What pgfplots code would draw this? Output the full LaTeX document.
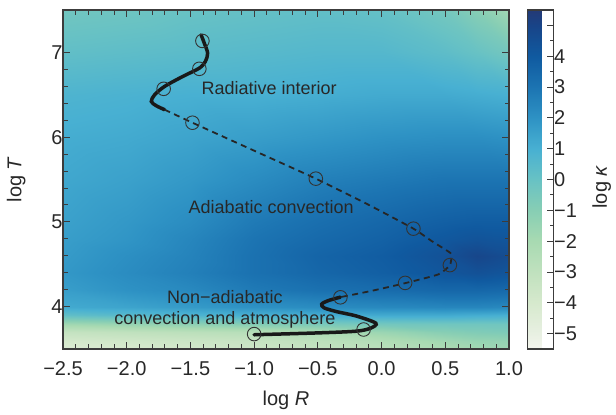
\documentclass[border=0pt]{standalone}
\usepackage{fontspec}
\setmainfont{Liberation Sans}
\usepackage{pgfplots}
\usepackage{pgfplotstable}
\pgfplotsset{compat=1.18}
\pgfplotsset{colormap={kappa}{
 rgb255(0pt)=(244,245,238);
 rgb255(1pt)=(232,240,226);
 rgb255(3pt)=(214,233,205);
 rgb255(5pt)=(192,225,190);
 rgb255(7pt)=(168,218,178);
 rgb255(9pt)=(135,206,180);
 rgb255(11pt)=(104,194,196);
 rgb255(13pt)=(72,176,210);
 rgb255(15pt)=(46,146,196);
 rgb255(17pt)=(28,116,178);
 rgb255(19pt)=(16,90,160);
 rgb255(21pt)=(24,68,136);
 rgb255(22pt)=(36,58,118)}}
\definecolor{frame}{RGB}{60,60,60}
\definecolor{txt}{RGB}{40,40,40}
\pgfplotstableread{
x y c
-2.5 3.5 -4.3
-2.0 3.5 -4.1
-1.5 3.5 -3.9
-1.0 3.5 -3.6
-0.5 3.5 -3.2
0.0 3.5 -2.8
0.5 3.5 -2.2
0.75 3.5 -1.9
1.0 3.5 -1.7
-2.5 3.6 -3.9
-2.0 3.6 -3.7
-1.5 3.6 -3.5
-1.0 3.6 -3.3
-0.5 3.6 -2.9
0.0 3.6 -2.4
0.5 3.6 -1.8
0.75 3.6 -1.5
1.0 3.6 -1.4
-2.5 3.7 -3.2
-2.0 3.7 -3.0
-1.5 3.7 -2.8
-1.0 3.7 -2.6
-0.5 3.7 -2.2
0.0 3.7 -1.6
0.5 3.7 -1.0
0.75 3.7 -0.8
1.0 3.7 -0.7
-2.5 3.8 -1.8
-2.0 3.8 -1.5
-1.5 3.8 -1.2
-1.0 3.8 -0.9
-0.5 3.8 -0.6
0.0 3.8 -0.4
0.5 3.8 -0.3
0.75 3.8 -0.3
1.0 3.8 -0.3
-2.5 3.9 0.2
-2.0 3.9 0.5
-1.5 3.9 0.8
-1.0 3.9 1.0
-0.5 3.9 1.1
0.0 3.9 1.2
0.5 3.9 1.2
0.75 3.9 1.1
1.0 3.9 1.0
-2.5 4.0 1.2
-2.0 4.0 1.4
-1.5 4.0 1.7
-1.0 4.0 2.0
-0.5 4.0 2.2
0.0 4.0 2.3
0.5 4.0 2.4
0.75 4.0 2.4
1.0 4.0 2.3
-2.5 4.2 1.6
-2.0 4.2 2.0
-1.5 4.2 2.3
-1.0 4.2 2.8
-0.5 4.2 3.1
0.0 4.2 3.3
0.5 4.2 3.5
0.75 4.2 3.5
1.0 4.2 3.4
-2.5 4.4 1.8
-2.0 4.4 2.2
-1.5 4.4 2.6
-1.0 4.4 3.1
-0.5 4.4 3.5
0.0 4.4 3.8
0.5 4.4 4.2
0.75 4.4 4.4
1.0 4.4 4.2
-2.5 4.6 1.7
-2.0 4.6 2.1
-1.5 4.6 2.5
-1.0 4.6 3.1
-0.5 4.6 3.6
0.0 4.6 3.9
0.5 4.6 4.4
0.75 4.6 4.9
1.0 4.6 4.6
-2.5 4.8 1.6
-2.0 4.8 1.9
-1.5 4.8 2.4
-1.0 4.8 3.0
-0.5 4.8 3.4
0.0 4.8 3.7
0.5 4.8 4.1
0.75 4.8 4.3
1.0 4.8 4.2
-2.5 5.0 1.5
-2.0 5.0 1.8
-1.5 5.0 2.2
-1.0 5.0 2.8
-0.5 5.0 3.2
0.0 5.0 3.5
0.5 5.0 3.8
0.75 5.0 3.9
1.0 5.0 3.9
-2.5 5.5 1.3
-2.0 5.5 1.5
-1.5 5.5 1.8
-1.0 5.5 2.2
-0.5 5.5 2.6
0.0 5.5 2.8
0.5 5.5 3.0
0.75 5.5 3.0
1.0 5.5 3.0
-2.5 6.0 1.1
-2.0 6.0 1.2
-1.5 6.0 1.4
-1.0 6.0 1.6
-0.5 6.0 1.8
0.0 6.0 2.0
0.5 6.0 2.1
0.75 6.0 2.1
1.0 6.0 2.0
-2.5 6.5 0.8
-2.0 6.5 0.9
-1.5 6.5 1.0
-1.0 6.5 1.0
-0.5 6.5 1.1
0.0 6.5 1.2
0.5 6.5 1.2
0.75 6.5 1.1
1.0 6.5 1.0
-2.5 7.0 0.2
-2.0 7.0 0.3
-1.5 7.0 0.4
-1.0 7.0 0.5
-0.5 7.0 0.6
0.0 7.0 0.6
0.5 7.0 0.3
0.75 7.0 0.0
1.0 7.0 -0.4
-2.5 7.5 -0.3
-2.0 7.5 -0.2
-1.5 7.5 0.0
-1.0 7.5 0.1
-0.5 7.5 0.2
0.0 7.5 0.1
0.5 7.5 -0.4
0.75 7.5 -1.0
1.0 7.5 -1.8
}\kappadata
\pgfplotstableread{
x y
-1.416 7.206
-1.391 7.108
-1.365 6.990
-1.383 6.892
-1.430 6.814
-1.560 6.716
-1.703 6.598
-1.781 6.500
-1.807 6.421
-1.768 6.370
-1.703 6.324
}\upperdata
\pgfplotstableread{
x y
-1.703 6.324
-1.484 6.170
-1.000 5.840
-0.516 5.510
-0.100 5.200
0.250 4.920
0.393 4.774
0.497 4.676
0.549 4.618
0.536 4.488
0.445 4.380
0.185 4.277
-0.078 4.186
-0.323 4.112
}\dasheddata
\pgfplotstableread{
x y
-0.323 4.112
-0.420 4.070
-0.470 4.030
-0.450 3.985
-0.350 3.940
-0.200 3.890
-0.045 3.805
-0.088 3.745
-0.200 3.710
-0.500 3.690
-1.000 3.668
}\lowerdata
\pgfplotstableread{
x y
-1.406 7.135
-1.430 6.806
-1.710 6.570
-1.484 6.170
-0.516 5.510
0.250 4.920
0.536 4.490
0.185 4.280
-0.323 4.110
-0.141 3.730
-1.000 3.676
}\marksdata
\begin{document}
\begin{tikzpicture}
\begin{axis}[
  at={(63pt,66pt)}, anchor=south west,
  scale only axis, width=446pt, height=339pt,
  xmin=-2.5, xmax=1.0, ymin=3.5, ymax=7.5,
  enlargelimits=false,
  axis on top,
  colormap name=kappa,
  point meta min=-5.5, point meta max=5.5,
  xtick={-2.5,-2,-1.5,-1,-0.5,0,0.5,1},
  xticklabels={−2.5,−2.0,−1.5,−1.0,−0.5,0.0,0.5,1.0},
  ytick={4,5,6,7},
  yticklabels={4,5,6,7},
  minor x tick num=4, minor y tick num=4,
  tick align=inside,
  major tick length=7pt, minor tick length=4.5pt,
  every tick/.style={frame, line width=0.9pt},
  axis line style={frame, line width=1.2pt},
  tick label style={font=\fontsize{20}{24}\selectfont, text=txt},
  xticklabel style={yshift=-9pt},
  yticklabel style={xshift=3pt},
  label style={font=\fontsize{20}{24}\selectfont, text=txt},
  xlabel={log \textit{R}},
  ylabel={log \textit{T}},
  xlabel style={at={(axis description cs:0.5,-0.1504)}, anchor=center},
  ylabel style={at={(axis description cs:-0.105,0.5)}, anchor=center},
  colorbar,
  colorbar style={
    at={(parent axis.north east)}, anchor=north west, xshift=10pt,
    width=26pt,
    ytick={-5,-4,-3,-2,-1,0,1,2,3,4,5},
    yticklabels={−5,−4,−3,−2,−1,0,1,2,3,4,{}},
    minor y tick num=1,
    ytick pos=right, yticklabel pos=right,
    tick align=inside,
    major tick length=7pt, minor tick length=4pt,
    every tick/.style={frame, line width=0.9pt},
    axis line style={frame, line width=1.2pt},
    tick label style={font=\fontsize{20}{24}\selectfont, text=txt},
    yticklabel style={xshift=-3pt},
    ylabel={log \textit{κ}},
    ylabel style={font=\fontsize{20}{24}\selectfont, text=txt, at={(axis description cs:2.85,0.478)}, anchor=center},
  },
]
\addplot[surf, shader=interp, mesh/cols=9, point meta=explicit] table[x=x, y=y, meta=c] {\kappadata};
\addplot[black!90, line width=3.5pt, smooth, tension=0.5, line cap=round] table {\upperdata};
\addplot[black!85, line width=1.8pt, dash pattern=on 6pt off 4.5pt, smooth, tension=0.3] table {\dasheddata};
\addplot[black!90, line width=3.5pt, smooth, tension=0.5, line cap=round] table {\lowerdata};
\addplot[only marks, mark=o, mark size=6.8pt, mark options={black!80, line width=0.9pt}] table {\marksdata};
\node[font=\fontsize{18}{21}\selectfont, text=txt] at (axis cs:-0.883,6.58) {Radiative interior};
\node[font=\fontsize{18}{21}\selectfont, text=txt] at (axis cs:-0.867,5.17) {Adiabatic convection};
\node[font=\fontsize{18}{21}\selectfont, text=txt, align=center] at (axis cs:-1.23,3.965) {Non−adiabatic\\convection and atmosphere};
\end{axis}
\pgfresetboundingbox
\path (0,0) rectangle (616pt,415pt);
\end{tikzpicture}
\end{document}
